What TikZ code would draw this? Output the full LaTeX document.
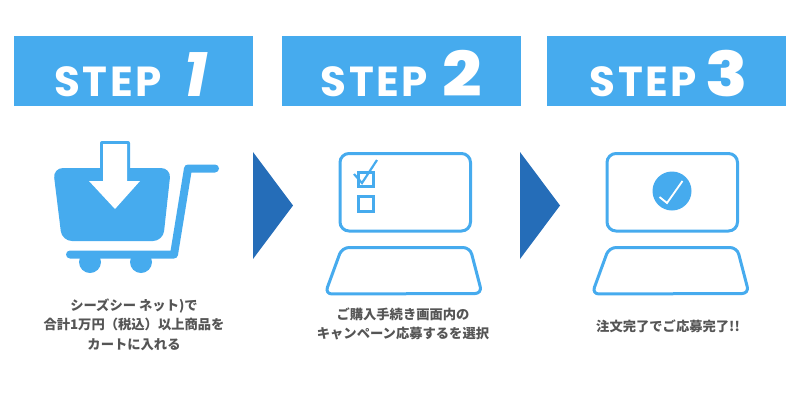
\documentclass[tikz,border=0pt]{standalone}
\usepackage{fontspec}
\usetikzlibrary{positioning}
\setmainfont{Noto Sans CJK JP}
\newfontfamily\stepfont[LetterSpace=6,BoldFont={Poppins Bold}]{Poppins}
\newfontfamily\numfont{Poppins ExtraBold}
\definecolor{stepblue}{HTML}{46ABEE}
\definecolor{arrowblue}{HTML}{256DB8}
\definecolor{notegray}{HTML}{555555}
\tikzset{
  banner/.style={fill=stepblue,text=white,minimum width=239pt,minimum height=70pt,inner sep=0pt,text height=50pt,text depth=0pt},
  note/.style={align=center,text=notegray,font=\fontsize{13.3pt}{19.3pt}\selectfont\bfseries,inner sep=0pt},
  pointer/.style={fill=arrowblue},
  frameline/.style={draw=stepblue,line width=3pt,rounded corners=9pt},
  padline/.style={frameline,rounded corners=7pt},
  boxline/.style={draw=stepblue,line width=3pt},
  barline/.style={draw=stepblue,line width=8pt,line cap=round,line join=round}
}
\newcommand{\steplabel}[2]{{\fontsize{42pt}{42pt}\stepfont\bfseries STEP}\hspace{#2}#1}
\begin{document}
\begin{tikzpicture}[x=1pt,y=-1pt]
  \useasboundingbox (0,0) rectangle (800,400);

  \node[banner,anchor=north west] (banner1) at (14,36) {\hspace{-5pt}\steplabel{\fontsize{62pt}{62pt}\stepfont\bfseries\slshape\scalebox{1.05}[1]{1}}{22pt}};
  \node[banner,right=28pt of banner1] (banner2) {\hspace{1pt}\steplabel{\scalebox{1.12}[1]{\fontsize{62pt}{62pt}\numfont 2}}{15pt}};
  \node[banner,right=26pt of banner2] (banner3) {\hspace{5pt}\steplabel{\scalebox{1.12}[1]{\fontsize{62pt}{62pt}\numfont 3}}{9pt}};

  % pointers between the steps
  \fill[pointer] (253,152) -- (293,205.5) -- (253,259) -- cycle;
  \fill[pointer] (520,152) -- (560,205.5) -- (520,259) -- cycle;

  % cart
  \fill[stepblue,rounded corners=10pt] (53,168) -- (171,168) -- (163,241) -- (62,241) -- cycle;
  \fill[stepblue,rounded corners=2pt] (100,141) rectangle (130,172);
  \fill[white] (103,144) -- (127,144) -- (127,181) -- (140,181) -- (115,209) -- (89,181) -- (103,181) -- cycle;
  \draw[barline] (215,168.5) -- (188,168.5) -- (174,254.5) -- (70,254.5);
  \node[circle,fill=stepblue,minimum size=22pt,inner sep=0pt] (wheel1) at (90,262) {};
  \node[circle,fill=stepblue,minimum size=22pt,inner sep=0pt] (wheel2) at (141,262) {};

  % form on the second screen
  \draw[frameline] (340,153.5) rectangle (470.5,231);
  \draw[padline] (342,247.5) -- (470,247.5) -- (482,293.5) -- (325,294) -- cycle;
  \draw[boxline] (358,172) rectangle (373,186);
  \draw[boxline] (358,196) rectangle (373,211);
  \draw[draw=stepblue,line width=2.2pt] (354,174) -- (362,183) -- (377,160);

  % done on the third screen
  \draw[frameline] (607,153.5) rectangle (737.5,231);
  \draw[padline] (609,247.5) -- (737,247.5) -- (749,293.5) -- (592,294) -- cycle;
  \node[circle,fill=stepblue,minimum size=39pt,inner sep=0pt] (done) at (672,191) {};
  \draw[draw=white,line width=1.8pt] (659.5,197) -- (667,203) -- (682.5,181);

  \node[note] (note1) at (134,324.5) {シーズシー ネット)で\\合計1万円（税込）以上商品を\\カートに入れる};
  \node[note] (note2) at (403,324) {ご購入手続き画面内の\\キャンペーン応募するを選択};
  \node[note] (note3) at (668,326) {注文完了でご応募完了!!};
\end{tikzpicture}
\end{document}
